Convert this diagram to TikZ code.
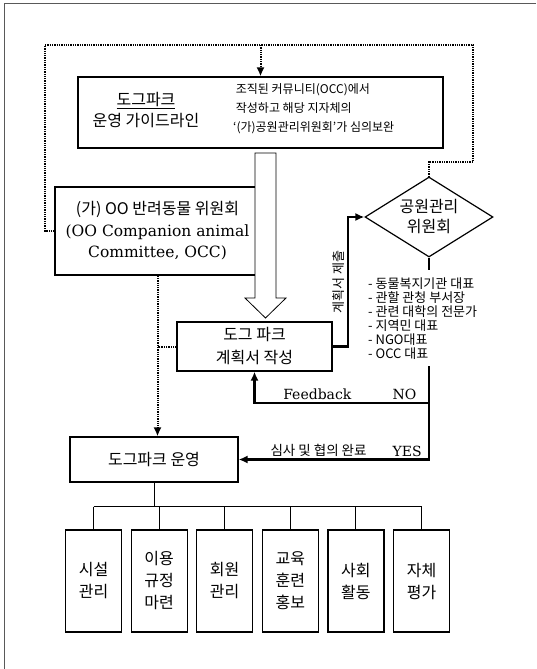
\documentclass[tikz,border=0pt]{standalone}
\usepackage{fontspec}
\setmainfont{DejaVu Serif}
\newfontfamily\kr[Ligatures=TeX]{Noto Sans CJK KR}
\usetikzlibrary{arrows.meta,shapes.geometric,positioning}

\tikzset{
  box/.style={draw, line width=1.2pt, inner sep=0pt},
  dotline/.style={line width=2pt, dash pattern=on 1.3pt off 1pt},
  flow/.style={line width=2.2pt},
  tip/.style={-{Latex[length=9pt,width=8pt]}},
  branch/.style={line width=1pt},
  krtext/.style={font=\kr\fontsize{16}{21}\selectfont, align=center},
}

\begin{document}
\begin{tikzpicture}[x=1pt,y=-1pt]
  \useasboundingbox (0,0) rectangle (536,669);
  % 바깥 테두리
  \draw[gray!70!black, line width=0.8pt] (536,3) -- (4,3) -- (4,669);

  % 운영 가이드라인
  \node[box, minimum width=365pt, minimum height=71pt] (guide) at (260.5,112.5) {};
  \node[krtext] (guidetitle) at (146,110) {\underline{도그파크}\\운영 가이드라인};
  \node[font=\kr\fontsize{12}{19}\selectfont, align=left, anchor=west, inner sep=0pt] (guidenote) at (233,109)
    {\ 조직된 커뮤니티(OCC)에서\\\ 작성하고 해당 지자체의\\`(가)공원관리위원회'가 심의보완};

  % 위원회
  \node[box, minimum width=205pt, minimum height=88pt, align=center, font=\fontsize{15.5}{21.5}\selectfont] (occ) at (157.5,231)
    {{\kr\fontsize{16}{21.5}\selectfont (가) OO 반려동물 위원회}\\(OO Companion animal\\Committee, OCC)};

  % 큰 화살표
  \draw[line width=0.8pt, fill=white] (255,153) -- (255,298) -- (245,298) -- (265.5,318)
    -- (286,298) -- (276,298) -- (276,153) -- cycle;

  % 계획서
  \node[box, minimum width=155pt, minimum height=49pt, krtext, font=\kr\fontsize{16}{23}\selectfont] (plan) at (254.5,346.5) {도그 파크\\계획서 작성};

  % 공원관리위원회
  \node[draw, diamond, aspect=1.6, line width=1.2pt, minimum width=128pt, minimum height=80pt, inner sep=0pt,
    krtext, font=\kr\fontsize{16}{20}\selectfont] (dia) at (429,217) {공원관리\\위원회};
  \node[font=\kr\fontsize{13}{14}\selectfont, align=left, anchor=north west, inner sep=0pt] (members) at (368,278)
    {- 동물복지기관 대표\\- 관할 관청 부서장\\- 관련 대학의 전문가\\- 지역민 대표\\- NGO대표\\- OCC 대표};

  % 운영
  \node[box, minimum width=168pt, minimum height=45pt, krtext] (ops) at (154,459.5) {도그파크 운영};
  \foreach \i/\t in {1/{시설\\관리}, 2/{이용\\규정\\마련}, 3/{회원\\관리}, 4/{교육\\훈련\\홍보}, 5/{사회\\활동}, 6/{자체\\평가}}
    \node[box, minimum width=56pt, minimum height=102pt, krtext, font=\kr\fontsize{16}{22}\selectfont] (c\i) at ({93.5+65.6*(\i-1)},581) {\t};

  % 점선 연결
  \coordinate (loopTL) at (45,45);
  \coordinate (loopTR) at (473,45);
  \coordinate (loopR) at (473,162);
  \draw[dotline] (occ.west) -| (loopTL) -- (loopTR) -- (loopR) -| (dia.north);
  \draw[dotline, tip] (guide.north |- loopTL) -- (guide.north);
  \draw[dotline, tip] (occ.south) -- (occ.south |- ops.north);
  \draw[dotline] (plan.west) -- (plan.west -| occ.south);

  % 제출, 피드백, 완료
  \coordinate (subm) at ([xshift=15pt]plan.east);
  \draw[flow, tip] (plan.east) -- (subm) |- (dia.west)
    node[pos=0.25, rotate=90, anchor=south, inner sep=2pt, font=\kr\fontsize{13}{13}\selectfont] (submlbl) {계획서 제출};
  \draw[flow] (dia.south) -- ([yshift=8pt]dia.south |- members.north);
  \coordinate (fb) at ([yshift=-31pt]plan.south);
  \draw[flow, tip] (dia.south |- fb) -- (fb)
    node[pos=0.14, above, inner sep=1.5pt, font=\fontsize{14}{14}\selectfont] (nolbl) {NO}
    node[pos=0.64, above, inner sep=1.5pt, font=\fontsize{14}{14}\selectfont] (fblbl) {Feedback}
    -- (plan.south);
  \draw[flow, tip] ([yshift=-6pt]members.south -| dia.south) -- (dia.south |- ops.east) -- (ops.east)
    node[pos=0.115, above, inner sep=2pt, font=\fontsize{14}{14}\selectfont] (yeslbl) {YES}
    node[pos=0.58, above, inner sep=2pt, font=\kr\fontsize{13.5}{14}\selectfont] (donelbl) {심사 및 협의 완료};

  % 하위 업무
  \draw[branch] (ops.south) -- ++(0,24) coordinate (bus);
  \draw[branch] (c1.north |- bus) -- (c6.north |- bus);
  \foreach \i in {1,...,6}
    \draw[branch] (c\i.north |- bus) -- (c\i.north);
\end{tikzpicture}
\end{document}
